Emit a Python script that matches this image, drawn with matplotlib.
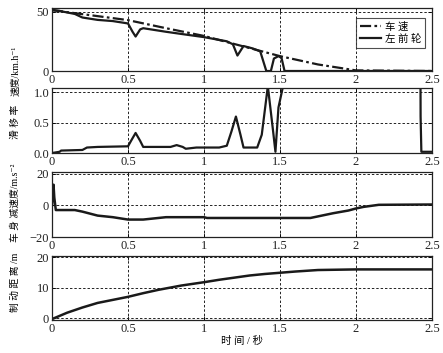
import matplotlib
matplotlib.use('Agg')
import matplotlib.pyplot as plt

# --- data ---
t_car = [0, 0.1, 0.25, 0.5, 0.75, 1.0, 1.25, 1.5, 1.75, 2.0, 2.5]
v_car = [51.5, 49.5, 47, 42.8, 36, 29.5, 21, 12.5, 5.5, 0.5, 0]

t_wheel = [0, 0.05, 0.15, 0.2, 0.3, 0.4, 0.5, 0.53, 0.55, 0.58, 0.6, 0.65, 0.75,
           0.86, 1.0, 1.15, 1.19, 1.22, 1.26, 1.32, 1.37, 1.41, 1.44, 1.46,
           1.49, 1.51, 1.53, 2.5]
v_wheel = [51, 50.5, 48, 45, 43, 42, 40, 33, 29, 35, 36, 35, 33,
           31, 28.5, 25, 22.5, 13, 21, 19, 16.5, 0, 0, 10.5,
           12.5, 11, 0, 0]

t_slip = [0, 0.05, 0.06, 0.2, 0.23, 0.3, 0.5, 0.52, 0.55, 0.58, 0.6, 0.7, 0.78,
          0.82, 0.86, 0.88, 0.95, 1.1, 1.15, 1.18, 1.21, 1.24, 1.26, 1.35,
          1.38, 1.42, 1.455, 1.47, 1.49, 1.52, 1.55, 2.42, 2.425, 2.43, 2.5]
slip = [0, 0.02, 0.04, 0.05, 0.09, 0.1, 0.11, 0.2, 0.33, 0.2, 0.1, 0.1, 0.1,
        0.13, 0.1, 0.07, 0.09, 0.09, 0.12, 0.35, 0.6, 0.3, 0.09, 0.09,
        0.3, 1.1, 0.35, 0.02, 0.75, 1.1, 5, 5, 0.6, 0.02, 0.02]

t_dec = [0, 0.01, 0.015, 0.025, 0.15, 0.2, 0.3, 0.4, 0.5, 0.6, 0.7, 0.75, 1.0,
         1.02, 1.7, 1.75, 1.85, 1.95, 2.0, 2.05, 2.15, 2.5]
dec = [0, 13, 5, -3, -3, -4, -6.5, -7.5, -9, -9, -8, -7.5, -7.5,
       -8, -8, -7, -5, -3.3, -2, -1, 0.3, 0.5]

t_dist = [0, 0.1, 0.2, 0.3, 0.4, 0.5, 0.6, 0.7, 0.85, 1.0, 1.1, 1.2, 1.3, 1.4,
          1.5, 1.6, 1.75, 2.0, 2.5]
dist = [-0.3, 1.8, 3.5, 5, 6, 7, 8.2, 9.3, 10.7, 11.8, 12.6, 13.3, 14, 14.5,
        14.9, 15.3, 15.8, 16, 16]

x_ticks = [0, 0.5, 1, 1.5, 2, 2.5]
x_tick_labels = ['0', '0.5', '1', '1.5', '2', '2.5']

plt.rcParams['font.family'] = ['Liberation Serif', 'DejaVu Serif']
cjk = ['Liberation Serif', 'Noto Sans CJK SC', 'DejaVu Sans']
line_col = '#1a1a1a'

fig = plt.figure(figsize=(4.43, 3.53), dpi=100)
left, width = 52 / 443, 380 / 443
boxes = [(8, 71), (88, 153), (172, 237), (256, 320)]
axes = []
for top, bot in boxes:
    ax = fig.add_axes([left, 1 - bot / 353, width, (bot - top) / 353])
    axes.append(ax)


def style(ax, yticks):
    ax.set_xlim(0, 2.5)
    ax.set_xticks(x_ticks)
    ax.set_xticklabels(x_tick_labels)
    ax.set_yticks(yticks)
    ax.tick_params(direction='in', length=3, width=0.6, labelsize=9, pad=2,
                   top=True, right=True, labelcolor='#222')
    for s in ax.spines.values():
        s.set_linewidth(0.9)
        s.set_color('#222')
    ax.grid(True, color='#222', linestyle=(0, (2.5, 2)), linewidth=0.7)


ax = axes[0]
ax.plot(t_car, v_car, color=line_col, lw=1.6, linestyle=(0, (5, 1.5, 1.2, 1.5)), label='车 速')
ax.plot(t_wheel, v_wheel, color=line_col, lw=1.6, label='左 前 轮')
ax.set_ylim(0, 53)
style(ax, [0, 50])
leg = ax.legend(loc='upper right', prop={'family': cjk, 'size': 7.5}, frameon=True,
                fancybox=False, edgecolor='#222', borderpad=0.35, handlelength=2.0,
                handletextpad=0.4, labelspacing=0.25, bbox_to_anchor=(0.995, 0.93))
leg.get_frame().set_linewidth(0.8)

ax = axes[1]
ax.plot(t_slip, slip, color=line_col, lw=1.6)
ax.set_ylim(0, 1.07)
style(ax, [0, 0.5, 1])

ax = axes[2]
ax.plot(t_dec, dec, color=line_col, lw=1.8)
ax.set_ylim(-20, 21)
style(ax, [-20, 0, 20])

ax = axes[3]
ax.plot(t_dist, dist, color=line_col, lw=1.8)
ax.set_ylim(-0.6, 20.4)
style(ax, [0, 10, 20])

# y labels
lab = dict(rotation=90, ha='center', va='center', family=cjk, fontsize=7)
fig.text(0.035, 0.80, '速度/km.h\u207b\u00b9', **lab)
fig.text(0.035, 0.655, '滑 移 率', **lab)
fig.text(0.035, 0.425, '车 身 减速度/m.s\u207b\u00b2', **lab)
fig.text(0.035, 0.20, '制 动 距 离 /m', **lab)
fig.text(left + width / 2, 1 - 341 / 353, '时 间 / 秒', ha='center', va='center',
         family=cjk, fontsize=7.5)

fig.savefig('out.png', dpi=100)
